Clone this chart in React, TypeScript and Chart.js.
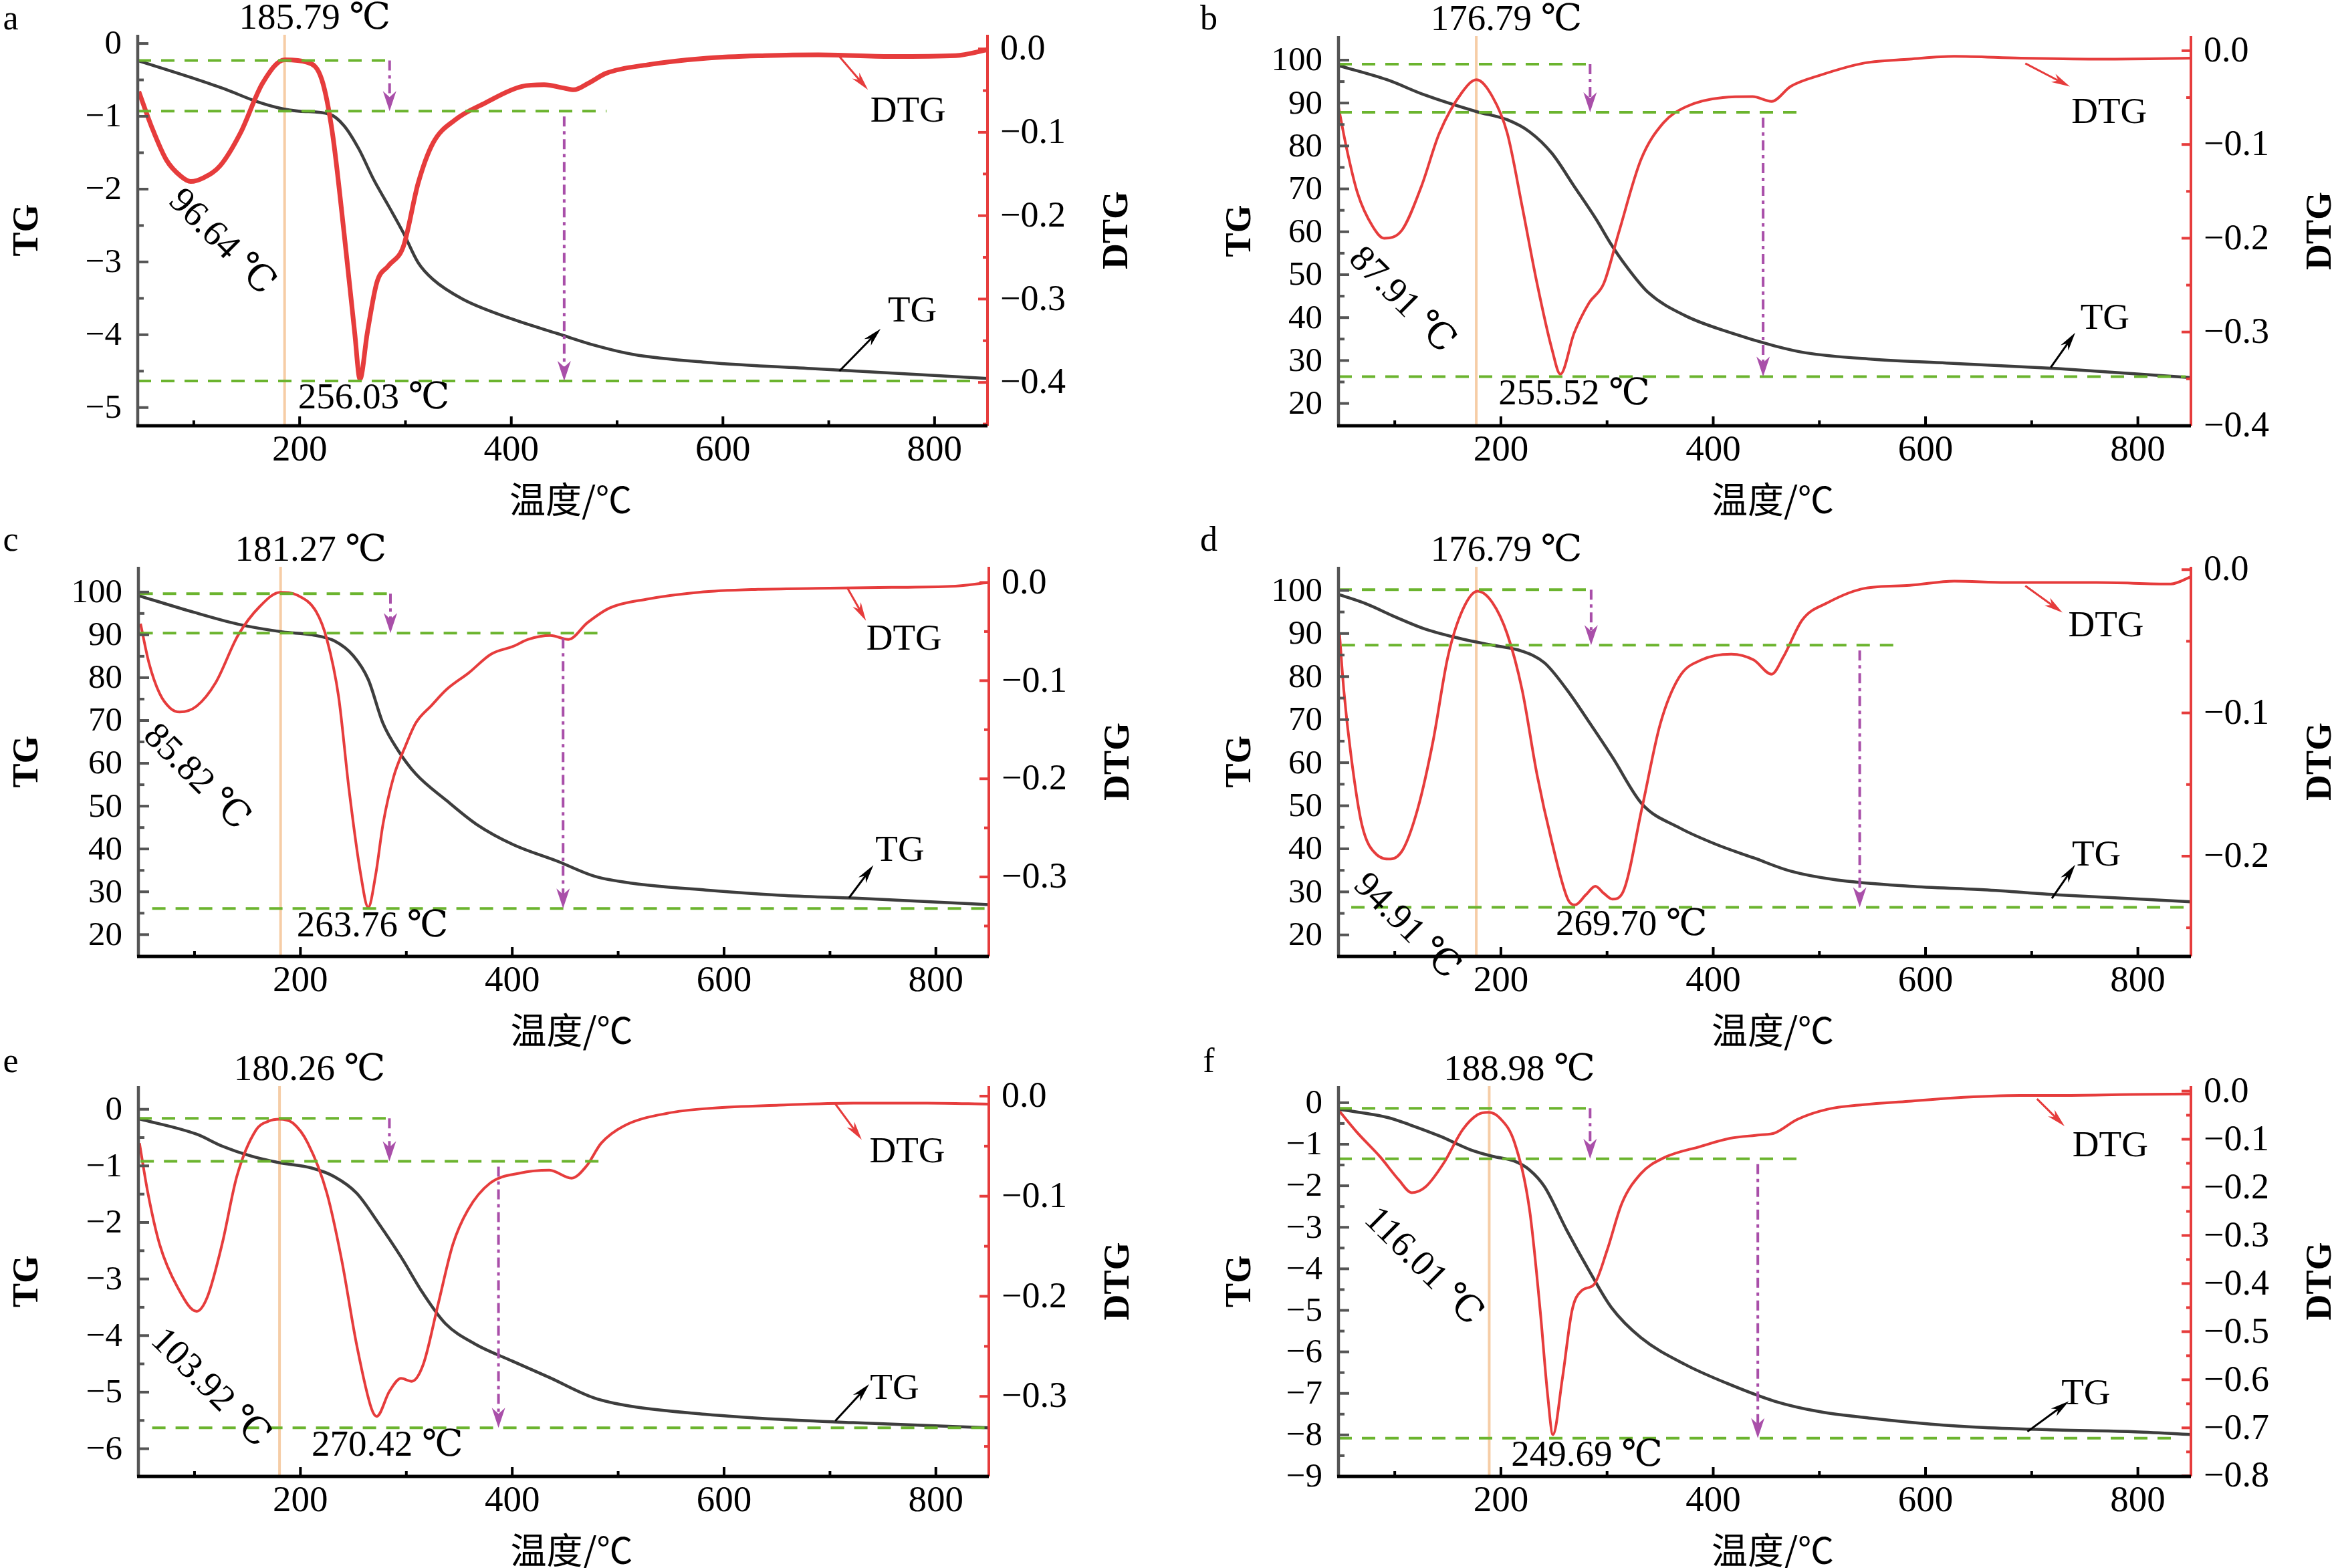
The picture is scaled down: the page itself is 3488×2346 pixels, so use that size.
import React, { useEffect, useRef } from "react";
import { Chart, registerables } from "chart.js";

Chart.register(...registerables);

const SERIF = '"Liberation Serif", "Times New Roman", "DejaVu Serif", serif';
const CJK = '"Noto Sans CJK SC", "Noto Sans CJK JP", sans-serif';
const RED = "#e63c3c";
const TGC = "#3d3d3d";
const GREEN = "#6bb42e";
const PURPLE = "#a94fa9";
const PEACH = "#f6cda6";

const X_MIN = 47;
const X_MAX = 850;
const xMajorTicks = [200, 400, 600, 800];
const xMinorTicks = [100, 300, 500, 700];
const xTitle = "温度/℃";

// ---------- panel a ----------
const tgTempA = [48, 102, 130, 158, 179, 200, 228, 242, 256, 270, 284, 298, 312, 326, 354, 396, 445, 480, 515, 585, 690, 850];
const tgA = [-0.24, -0.49, -0.63, -0.79, -0.88, -0.93, -0.97, -1.13, -1.45, -1.87, -2.23, -2.6, -3.01, -3.24, -3.51, -3.76, -3.99, -4.15, -4.27, -4.38, -4.47, -4.6];
const dtgTempA = [48, 60, 74, 88, 97, 110, 125, 144, 165, 186, 207, 221, 231, 242, 252, 257, 264, 273, 284, 298, 312, 326, 347, 375, 410, 431, 450, 459, 473, 490, 529, 585, 640, 690, 759, 820, 850];
const dtgA = [-0.051, -0.093, -0.133, -0.153, -0.159, -0.154, -0.14, -0.101, -0.041, -0.013, -0.016, -0.037, -0.101, -0.221, -0.34, -0.396, -0.34, -0.28, -0.26, -0.237, -0.161, -0.113, -0.085, -0.065, -0.045, -0.043, -0.047, -0.049, -0.041, -0.029, -0.019, -0.011, -0.008, -0.007, -0.009, -0.008, -0.001];

// ---------- panel b ----------
const tgTempB = [46, 93, 128, 177, 206, 227, 248, 269, 290, 304, 318, 339, 374, 416, 458, 487, 550, 620, 725, 850];
const tgB = [98.8, 95.4, 91.9, 88.0, 86.1, 83.3, 78.3, 70.6, 62.8, 57.0, 52.0, 45.8, 40.4, 36.5, 33.4, 31.8, 30.3, 29.4, 28.1, 26.0];
const dtgTempB = [47, 55, 65, 79, 90, 107, 125, 142, 163, 177, 192, 206, 220, 234, 248, 256, 269, 283, 297, 311, 332, 353, 374, 409, 437, 455, 473, 501, 543, 585, 627, 690, 761, 850];
const dtgB = [-0.06, -0.106, -0.152, -0.187, -0.2, -0.191, -0.145, -0.088, -0.045, -0.031, -0.049, -0.088, -0.166, -0.248, -0.318, -0.345, -0.301, -0.269, -0.248, -0.194, -0.116, -0.077, -0.06, -0.05, -0.049, -0.054, -0.038, -0.026, -0.013, -0.009, -0.006, -0.008, -0.009, -0.008];

// ---------- panel c ----------
const tgTempC = [48, 99, 141, 183, 211, 232, 250, 264, 278, 292, 309, 338, 366, 401, 443, 478, 513, 583, 653, 724, 850];
const tgC = [99.1, 95.3, 92.5, 90.7, 90.0, 88.6, 85.1, 79.6, 69.3, 63.1, 57.5, 51.3, 45.8, 41.0, 37.1, 33.6, 32.0, 30.4, 29.2, 28.5, 27.0];
const dtgTempC = [49, 57, 67, 77, 86, 102, 120, 141, 162, 181, 197, 215, 225, 236, 246, 257, 264, 271, 278, 288, 299, 309, 324, 338, 359, 380, 401, 415, 436, 453, 471, 492, 527, 576, 632, 688, 758, 814, 850];
const dtgC = [-0.042, -0.082, -0.113, -0.128, -0.132, -0.126, -0.102, -0.054, -0.024, -0.01, -0.013, -0.03, -0.058, -0.116, -0.212, -0.298, -0.331, -0.298, -0.246, -0.198, -0.167, -0.143, -0.125, -0.109, -0.092, -0.073, -0.065, -0.058, -0.054, -0.058, -0.041, -0.026, -0.017, -0.01, -0.007, -0.006, -0.005, -0.004, 0.0];

// ---------- panel d ----------
const tgTempD = [48, 73, 101, 129, 164, 192, 220, 241, 262, 284, 305, 333, 368, 403, 438, 473, 515, 585, 655, 726, 850];
const tgD = [99.0, 96.9, 93.8, 91.0, 88.7, 87.3, 85.9, 83.2, 77.0, 69.1, 61.3, 50.4, 44.9, 41.0, 37.9, 34.8, 32.8, 31.3, 30.5, 29.3, 27.7];
const dtgTempD = [48, 52, 59, 69, 83, 96, 108, 122, 136, 150, 164, 178, 192, 206, 220, 234, 248, 263, 270, 280, 289, 297, 305, 315, 333, 350, 368, 389, 417, 438, 455, 466, 484, 508, 543, 585, 627, 676, 761, 831, 850];
const dtgD = [-0.045, -0.084, -0.131, -0.178, -0.199, -0.202, -0.195, -0.166, -0.12, -0.061, -0.028, -0.015, -0.023, -0.045, -0.084, -0.143, -0.19, -0.23, -0.234, -0.227, -0.221, -0.226, -0.23, -0.225, -0.166, -0.108, -0.075, -0.063, -0.059, -0.063, -0.073, -0.061, -0.035, -0.023, -0.013, -0.011, -0.008, -0.009, -0.009, -0.01, -0.005];

// ---------- panel e ----------
const tgTempE = [48, 102, 126, 154, 179, 211, 232, 253, 274, 295, 316, 337, 365, 400, 435, 477, 512, 582, 652, 722, 850];
const tgE = [-0.17, -0.44, -0.65, -0.83, -0.94, -1.04, -1.19, -1.48, -2.02, -2.61, -3.26, -3.79, -4.15, -4.45, -4.74, -5.1, -5.25, -5.39, -5.48, -5.54, -5.63];
const dtgTempE = [48, 56, 67, 84, 102, 112, 126, 140, 158, 170, 180, 193, 207, 225, 239, 253, 267, 272, 284, 295, 305, 316, 330, 344, 358, 379, 407, 435, 456, 470, 484, 505, 547, 589, 652, 722, 792, 850];
const dtgE = [-0.047, -0.097, -0.148, -0.191, -0.215, -0.201, -0.148, -0.08, -0.034, -0.025, -0.023, -0.027, -0.047, -0.097, -0.164, -0.248, -0.312, -0.32, -0.295, -0.282, -0.285, -0.268, -0.208, -0.148, -0.114, -0.087, -0.077, -0.074, -0.082, -0.07, -0.047, -0.03, -0.017, -0.012, -0.009, -0.007, -0.007, -0.008];

// ---------- panel f ----------
const tgTempF = [48, 94, 114, 143, 171, 192, 213, 227, 241, 262, 283, 304, 332, 374, 416, 458, 500, 549, 605, 654, 724, 794, 850];
const tgF = [-0.16, -0.36, -0.53, -0.81, -1.13, -1.29, -1.41, -1.62, -2.02, -3.07, -4.04, -4.93, -5.66, -6.31, -6.79, -7.19, -7.44, -7.6, -7.74, -7.82, -7.88, -7.92, -7.99];
const dtgTempF = [48, 65, 86, 104, 116, 129, 146, 164, 178, 188, 199, 213, 227, 237, 244, 249, 258, 267, 276, 288, 300, 314, 332, 353, 388, 416, 444, 458, 479, 507, 542, 584, 626, 689, 724, 794, 850];
const dtgF = [-0.042, -0.087, -0.136, -0.185, -0.211, -0.199, -0.15, -0.08, -0.049, -0.044, -0.056, -0.108, -0.247, -0.456, -0.631, -0.714, -0.596, -0.456, -0.415, -0.401, -0.331, -0.233, -0.171, -0.139, -0.115, -0.098, -0.091, -0.087, -0.059, -0.038, -0.028, -0.021, -0.014, -0.009, -0.009, -0.007, -0.006];

// tick values
const tgTicksNeg5 = [0, -1, -2, -3, -4, -5];
const tgMinorNeg5 = [-0.5, -1.5, -2.5, -3.5, -4.5];
const tgTicksPct = [20, 30, 40, 50, 60, 70, 80, 90, 100];
const tgMinorPct = [25, 35, 45, 55, 65, 75, 85, 95];
const tgTicksNeg6 = [0, -1, -2, -3, -4, -5, -6];
const tgMinorNeg6 = [-0.5, -1.5, -2.5, -3.5, -4.5, -5.5];
const tgTicksNeg9 = [0, -1, -2, -3, -4, -5, -6, -7, -8, -9];
const tgMinorNeg9 = [-0.5, -1.5, -2.5, -3.5, -4.5, -5.5, -6.5, -7.5, -8.5];
const dtgTicks04 = [0, -0.1, -0.2, -0.3, -0.4];
const dtgMinor04 = [-0.05, -0.15, -0.25, -0.35, -0.45];
const dtgMinor04b = [-0.05, -0.15, -0.25, -0.35];
const dtgTicks03 = [0, -0.1, -0.2, -0.3];
const dtgMinor03 = [-0.05, -0.15, -0.25, -0.35];
const dtgTicks02 = [0, -0.1, -0.2];
const dtgMinor02 = [-0.05, -0.15, -0.25];
const dtgTicks08 = [0, -0.1, -0.2, -0.3, -0.4, -0.5, -0.6, -0.7, -0.8];
const dtgMinor08 = [-0.05, -0.15, -0.25, -0.35, -0.45, -0.55, -0.65, -0.75];

type Pad = { left: number; top: number; right: number; bottom: number };
type Panel = {
  letter: string;
  col: number;
  row: number;
  pad: Pad;
  tgX: number[];
  tg: number[];
  dtgX: number[];
  dtg: number[];
  tgRange: [number, number];
  dtgRange: [number, number];
  tgTicks: number[];
  tgMinor: number[];
  dtgTicks: number[];
  dtgMinor: number[];
  peakT: number;
  peakLabel: string;
  firstMinAnchor: [number, number];
  firstMinLabel: string;
  secondMinX: number;
  secondMinLabel: string;
  levels: number[];
  levelSpans: [number, number][];
  arrowT: number[];
  dtgText: [number, number];
  dtgArrow: [number, number, number, number];
  tgText: [number, number];
  tgArrow: [number, number, number, number];
  dtgWidth: number;
  titleX: number;
};

const panels: Panel[] = [
  {
    letter: "a", col: 0, row: 0,
    pad: { left: 206, top: 52, right: 267, bottom: 203 },
    tgX: tgTempA, tg: tgA, dtgX: dtgTempA, dtg: dtgA,
    tgRange: [-5.25, 0.12], dtgRange: [-0.452, 0.017],
    tgTicks: tgTicksNeg5, tgMinor: tgMinorNeg5, dtgTicks: dtgTicks04, dtgMinor: dtgMinor04,
    peakT: 185.79, peakLabel: "185.79 ℃",
    firstMinAnchor: [91.6, -0.163], firstMinLabel: "96.64 ℃",
    secondMinX: 270, secondMinLabel: "256.03 ℃",
    levels: [-0.233, -0.929, -4.634],
    levelSpans: [[X_MIN, 287], [X_MIN, 490], [X_MIN, 840]],
    arrowT: [285, 450],
    dtgText: [775, -0.076], dtgArrow: [710, -0.009, 737, -0.049],
    tgText: [779, -3.69], tgArrow: [710, -4.5, 749, -3.92],
    dtgWidth: 7, titleX: 42,
  },
  {
    letter: "b", col: 1, row: 0,
    pad: { left: 258, top: 54, right: 211, bottom: 203 },
    tgX: tgTempB, tg: tgB, dtgX: dtgTempB, dtg: dtgB,
    tgRange: [14.8, 105.6], dtgRange: [-0.4, 0.0156],
    tgTicks: tgTicksPct, tgMinor: tgMinorPct, dtgTicks: dtgTicks04, dtgMinor: dtgMinor04b,
    peakT: 176.79, peakLabel: "176.79 ℃",
    firstMinAnchor: [72, -0.205], firstMinLabel: "87.91 ℃",
    secondMinX: 269, secondMinLabel: "255.52 ℃",
    levels: [99.07, 87.84, 26.26],
    levelSpans: [[X_MIN, 284], [X_MIN, 487], [X_MIN, 845]],
    arrowT: [284, 447],
    dtgText: [773, -0.0667], dtgArrow: [694, -0.0135, 736, -0.0383],
    tgText: [769, 39.6], tgArrow: [718, 28.4, 741, 36.5],
    dtgWidth: 4, titleX: 112,
  },
  {
    letter: "c", col: 0, row: 1,
    pad: { left: 207, top: 68, right: 265, bottom: 189 },
    tgX: tgTempC, tg: tgC, dtgX: dtgTempC, dtg: dtgC,
    tgRange: [14.9, 105.9], dtgRange: [-0.381, 0.016],
    tgTicks: tgTicksPct, tgMinor: tgMinorPct, dtgTicks: dtgTicks03, dtgMinor: dtgMinor03,
    peakT: 181.27, peakLabel: "181.27 ℃",
    firstMinAnchor: [67, -0.14], firstMinLabel: "85.82 ℃",
    secondMinX: 268, secondMinLabel: "263.76 ℃",
    levels: [99.6, 90.4, 26.1],
    levelSpans: [[48, 286], [48, 488], [60, 850]],
    arrowT: [285, 448],
    dtgText: [770, -0.0586], dtgArrow: [716, -0.0048, 734, -0.039],
    tgText: [766, 39.5], tgArrow: [718, 28.6, 741, 36.2],
    dtgWidth: 4, titleX: 42,
  },
  {
    letter: "d", col: 1, row: 1,
    pad: { left: 258, top: 68, right: 211, bottom: 189 },
    tgX: tgTempD, tg: tgD, dtgX: dtgTempD, dtg: dtgD,
    tgRange: [15.0, 105.5], dtgRange: [-0.27, 0.002],
    tgTicks: tgTicksPct, tgMinor: tgMinorPct, dtgTicks: dtgTicks02, dtgMinor: dtgMinor02,
    peakT: 176.79, peakLabel: "176.79 ℃",
    firstMinAnchor: [76.5, -0.209], firstMinLabel: "94.91 ℃",
    secondMinX: 323, secondMinLabel: "269.70 ℃",
    levels: [100.2, 87.3, 26.4],
    levelSpans: [[X_MIN, 285], [50, 578], [59, 850]],
    arrowT: [285, 538],
    dtgText: [770, -0.0399], dtgArrow: [694, -0.0113, 729, -0.03],
    tgText: [761, 38.3], tgArrow: [719, 28.5, 741, 36.3],
    dtgWidth: 4, titleX: 112,
  },
  {
    letter: "e", col: 0, row: 2,
    pad: { left: 207, top: 65, right: 265, bottom: 137 },
    tgX: tgTempE, tg: tgE, dtgX: dtgTempE, dtg: dtgE,
    tgRange: [-6.49, 0.41], dtgRange: [-0.38, 0.01],
    tgTicks: tgTicksNeg6, tgMinor: tgMinorNeg6, dtgTicks: dtgTicks03, dtgMinor: dtgMinor03,
    peakT: 180.26, peakLabel: "180.26 ℃",
    firstMinAnchor: [74, -0.228], firstMinLabel: "103.92 ℃",
    secondMinX: 282, secondMinLabel: "270.42 ℃",
    levels: [-0.16, -0.919, -5.63],
    levelSpans: [[X_MIN, 285], [49, 487], [60, 848]],
    arrowT: [284, 387],
    dtgText: [773, -0.0563], dtgArrow: [705, -0.0077, 730, -0.0436],
    tgText: [761, -4.95], tgArrow: [705, -5.51, 737, -4.86],
    dtgWidth: 4, titleX: 42,
  },
  {
    letter: "f", col: 1, row: 2,
    pad: { left: 258, top: 65, right: 211, bottom: 137 },
    tgX: tgTempF, tg: tgF, dtgX: dtgTempF, dtg: dtgF,
    tgRange: [-9.0, 0.4], dtgRange: [-0.801, 0.0105],
    tgTicks: tgTicksNeg9, tgMinor: tgMinorNeg9, dtgTicks: dtgTicks08, dtgMinor: dtgMinor08,
    peakT: 188.98, peakLabel: "188.98 ℃",
    firstMinAnchor: [86.5, -0.233], firstMinLabel: "116.01 ℃",
    secondMinX: 281, secondMinLabel: "249.69 ℃",
    levels: [-0.137, -1.35, -8.08],
    levelSpans: [[X_MIN, 284], [X_MIN, 479], [X_MIN, 833]],
    arrowT: [284, 442],
    dtgText: [774, -0.116], dtgArrow: [705, -0.016, 731, -0.073],
    tgText: [751, -7.03], tgArrow: [696, -7.92, 735, -7.19],
    dtgWidth: 4, titleX: 112,
  },
];

const ROW_TOP = [0, 780, 1560];
const ROW_H = [840, 840, 786];
const COL_LEFT = [0, 1744];
const CANVAS_W = 1744;

const fmtTG = (v: number) => (v === 0 ? "0" : v < 0 ? "\u2212" + Math.abs(v) : String(v));
const fmtDTG = (v: number) => (Math.abs(v) < 1e-9 ? "0.0" : "\u2212" + Math.abs(v).toFixed(1));

function arrowHead(ctx: CanvasRenderingContext2D, x0: number, y0: number, x1: number, y1: number, len: number, half: number, color: string) {
  const ang = Math.atan2(y1 - y0, x1 - x0);
  ctx.save();
  ctx.setLineDash([]);
  ctx.translate(x1, y1);
  ctx.rotate(ang);
  ctx.beginPath();
  ctx.moveTo(0, 0);
  ctx.lineTo(-len, -half);
  ctx.lineTo(-len * 0.7, 0);
  ctx.lineTo(-len, half);
  ctx.closePath();
  ctx.fillStyle = color;
  ctx.fill();
  ctx.restore();
}

function seg(ctx: CanvasRenderingContext2D, x0: number, y0: number, x1: number, y1: number) {
  ctx.beginPath();
  ctx.moveTo(x0, y0);
  ctx.lineTo(x1, y1);
  ctx.stroke();
}

function makePlugin(p: Panel) {
  return {
    id: "panelDecor" + p.letter,
    beforeDatasetsDraw(chart: any) {
      const { ctx, chartArea: a } = chart;
      const x = chart.scales.x.getPixelForValue(p.peakT);
      ctx.save();
      ctx.strokeStyle = PEACH;
      ctx.lineWidth = 4;
      seg(ctx, x, a.top, x, a.bottom);
      ctx.restore();
    },
    afterDatasetsDraw(chart: any) {
      const { ctx, chartArea: a } = chart;
      const sx = chart.scales.x;
      const sl = chart.scales.yTG;
      const sr = chart.scales.yDTG;
      const X = (v: number) => sx.getPixelForValue(v);
      const YL = (v: number) => sl.getPixelForValue(v);
      const YR = (v: number) => sr.getPixelForValue(v);
      ctx.save();

      // green dashed reference lines
      ctx.strokeStyle = GREEN;
      ctx.lineWidth = 4;
      ctx.setLineDash([20, 15]);
      p.levels.forEach((lv, i) => {
        const [x0, x1] = p.levelSpans[i];
        seg(ctx, X(x0), YL(lv), X(x1), YL(lv));
      });

      // purple dash-dot arrows
      ctx.strokeStyle = PURPLE;
      ctx.lineWidth = 4;
      for (let i = 0; i < 2; i++) {
        const x = X(p.arrowT[i]);
        const y0 = YL(p.levels[i]) + (i === 1 ? 8 : 0);
        const y1 = YL(p.levels[i + 1]);
        ctx.setLineDash([15, 7, 5, 7]);
        seg(ctx, x, y0, x, y1 - 20);
        arrowHead(ctx, x, y0, x, y1, 30, 10, PURPLE);
      }
      ctx.setLineDash([]);

      // axes
      ctx.lineCap = "butt";
      ctx.strokeStyle = "#555555";
      ctx.lineWidth = 4.5;
      seg(ctx, a.left, a.top, a.left, a.bottom);
      ctx.lineWidth = 4;
      p.tgTicks.forEach((v) => seg(ctx, a.left, YL(v), a.left + 16, YL(v)));
      p.tgMinor.forEach((v) => seg(ctx, a.left, YL(v), a.left + 9, YL(v)));
      ctx.strokeStyle = RED;
      ctx.lineWidth = 4;
      seg(ctx, a.right, a.top, a.right, a.bottom);
      p.dtgTicks.forEach((v) => seg(ctx, a.right, YR(v), a.right - 14, YR(v)));
      p.dtgMinor.forEach((v) => seg(ctx, a.right, YR(v), a.right - 7, YR(v)));
      ctx.strokeStyle = "#000000";
      ctx.lineWidth = 5;
      seg(ctx, a.left - 2, a.bottom, a.right, a.bottom);
      ctx.lineWidth = 4;
      xMajorTicks.forEach((v) => seg(ctx, X(v), a.bottom, X(v), a.bottom - 14));
      xMinorTicks.forEach((v) => seg(ctx, X(v), a.bottom, X(v), a.bottom - 8));

      // tick labels
      ctx.fillStyle = "#000";
      ctx.font = `55px ${SERIF}`;
      ctx.textAlign = "center";
      ctx.textBaseline = "middle";
      xMajorTicks.forEach((v) => ctx.fillText(String(v), X(v), a.bottom + 38));
      ctx.font = `51px ${SERIF}`;
      ctx.textAlign = "right";
      p.tgTicks.forEach((v) => ctx.fillText(fmtTG(v), a.left - 24, YL(v) + 2));
      ctx.font = `54px ${SERIF}`;
      ctx.textAlign = "left";
      p.dtgTicks.forEach((v) => ctx.fillText(fmtDTG(v), a.right + 19, YR(v) + 2));

      // axis titles
      const cy = (a.top + a.bottom) / 2;
      ctx.font = `bold 54px ${SERIF}`;
      ctx.textAlign = "center";
      ctx.save();
      ctx.translate(p.titleX, cy);
      ctx.rotate(-Math.PI / 2);
      ctx.fillText("TG", 0, 0);
      ctx.restore();
      ctx.save();
      ctx.translate(a.right + 195, cy);
      ctx.rotate(-Math.PI / 2);
      ctx.fillText("DTG", 0, 0);
      ctx.restore();
      ctx.font = `54px ${CJK}`;
      ctx.fillText(xTitle, (a.left + a.right) / 2 + 12, a.bottom + 110);

      // panel letter
      ctx.font = `52px ${SERIF}`;
      ctx.fillText(p.letter, p.col === 0 ? 16 : 64, 30);

      // peak labels
      ctx.font = `55px ${SERIF}`;
      ctx.fillText(p.peakLabel, X(p.peakT) + 45, a.top - 23);
      ctx.fillText(p.secondMinLabel, X(p.secondMinX), YL(p.levels[2]) + 27);

      // rotated first-min label
      ctx.save();
      ctx.translate(X(p.firstMinAnchor[0]), YR(p.firstMinAnchor[1]));
      ctx.rotate(Math.PI / 4);
      ctx.textAlign = "left";
      ctx.textBaseline = "alphabetic";
      ctx.fillText(p.firstMinLabel, 0, 37);
      ctx.restore();

      // DTG / TG curve labels with arrows
      ctx.textAlign = "center";
      ctx.textBaseline = "middle";
      ctx.fillText("DTG", X(p.dtgText[0]), YR(p.dtgText[1]));
      ctx.fillText("TG", X(p.tgText[0]), YL(p.tgText[1]));
      ctx.lineWidth = 3;
      {
        const [x0, y0, x1, y1] = p.dtgArrow;
        const px0 = X(x0), py0 = YR(y0), px1 = X(x1), py1 = YR(y1);
        ctx.strokeStyle = RED;
        const ang = Math.atan2(py1 - py0, px1 - px0);
        seg(ctx, px0, py0, px1 - Math.cos(ang) * 16, py1 - Math.sin(ang) * 16);
        arrowHead(ctx, px0, py0, px1, py1, 28, 7, RED);
      }
      {
        const [x0, y0, x1, y1] = p.tgArrow;
        const px0 = X(x0), py0 = YL(y0), px1 = X(x1), py1 = YL(y1);
        ctx.strokeStyle = "#000";
        const ang = Math.atan2(py1 - py0, px1 - px0);
        seg(ctx, px0, py0, px1 - Math.cos(ang) * 16, py1 - Math.sin(ang) * 16);
        arrowHead(ctx, px0, py0, px1, py1, 28, 7, "#000");
      }
      ctx.restore();
    },
  };
}

function PanelChart({ p }: { p: Panel }) {
  const ref = useRef<HTMLCanvasElement>(null);
  const h = ROW_H[p.row];
  useEffect(() => {
    if (!ref.current) return;
    const chart = new Chart(ref.current, {
      type: "line",
      data: {
        datasets: [
          {
            label: "DTG",
            data: p.dtgX.map((x, i) => ({ x, y: p.dtg[i] })),
            yAxisID: "yDTG",
            borderColor: RED,
            borderWidth: p.dtgWidth,
            pointRadius: 0,
            cubicInterpolationMode: "monotone",
            fill: false,
          },
          {
            label: "TG",
            data: p.tgX.map((x, i) => ({ x, y: p.tg[i] })),
            yAxisID: "yTG",
            borderColor: TGC,
            borderWidth: 4.5,
            pointRadius: 0,
            cubicInterpolationMode: "monotone",
            fill: false,
          },
        ],
      },
      options: {
        animation: false,
        responsive: false,
        devicePixelRatio: 1,
        events: [],
        layout: { padding: p.pad },
        plugins: { legend: { display: false }, tooltip: { enabled: false } },
        scales: {
          x: { type: "linear", min: X_MIN, max: X_MAX, display: false },
          yTG: { type: "linear", position: "left", min: p.tgRange[0], max: p.tgRange[1], display: false },
          yDTG: { type: "linear", position: "right", min: p.dtgRange[0], max: p.dtgRange[1], display: false },
        },
      },
      plugins: [makePlugin(p)],
    } as any);
    return () => chart.destroy();
  }, [p]);
  return (
    <canvas
      ref={ref}
      width={CANVAS_W}
      height={h}
      style={{ position: "absolute", left: COL_LEFT[p.col], top: ROW_TOP[p.row], width: CANVAS_W, height: h }}
    />
  );
}

export default function App() {
  return (
    <div style={{ position: "absolute", left: 0, top: 0, width: 3488, height: 2346, overflow: "hidden", background: "#fff" }}>
      {panels.map((p) => (
        <PanelChart key={p.letter} p={p} />
      ))}
    </div>
  );
}
